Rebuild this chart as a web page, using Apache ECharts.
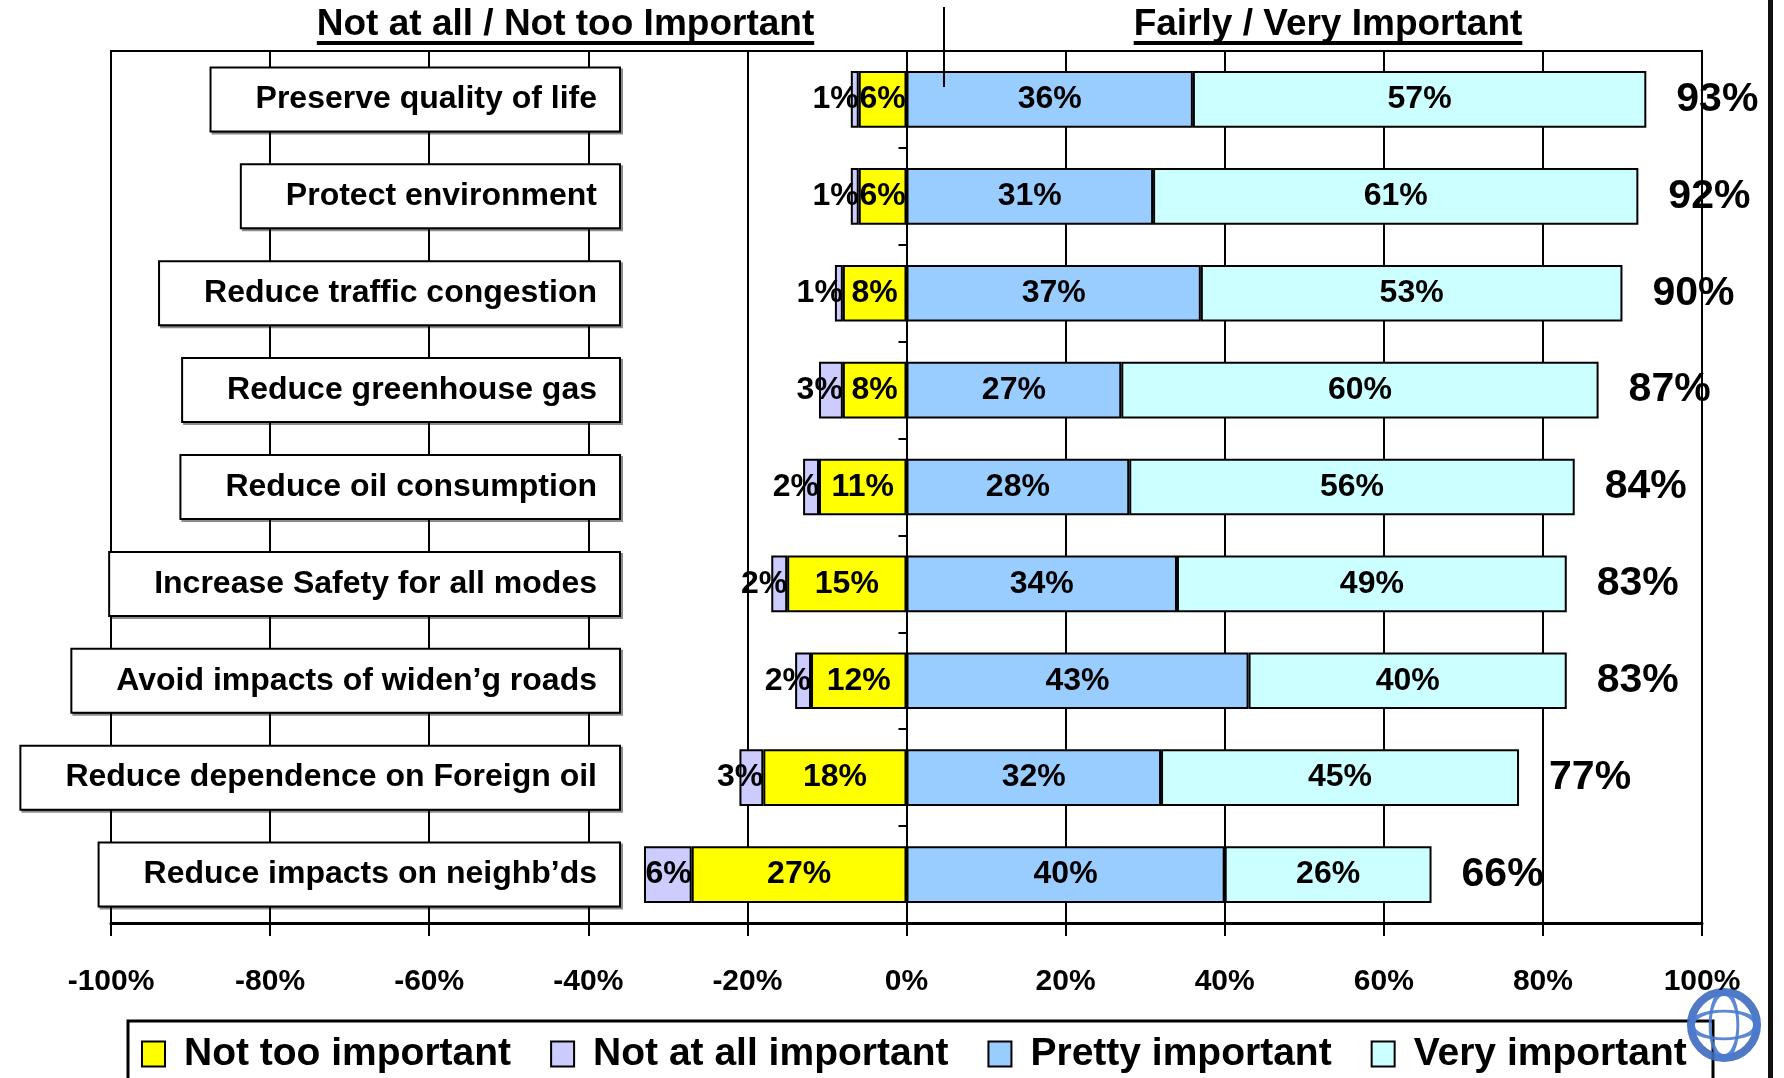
<!DOCTYPE html>
<html><head><meta charset="utf-8">
<script src="https://cdn.jsdelivr.net/npm/echarts@6/dist/echarts.min.js"></script>
<style>html,body{margin:0;padding:0;background:#fff}#c{width:1784px;height:1078px}</style>
</head><body><div id="c"></div>
<script>
// ---- data ----
const categories = [
  'Preserve quality of life',
  'Protect environment',
  'Reduce traffic congestion',
  'Reduce greenhouse gas',
  'Reduce oil consumption',
  'Increase Safety for all modes',
  'Avoid impacts of widen\u2019g roads',
  'Reduce dependence on Foreign oil',
  'Reduce impacts on neighb\u2019ds'
];
const notTooImportant   = [6, 6, 8, 8, 11, 15, 12, 18, 27];
const notAtAllImportant = [1, 1, 1, 3, 2, 2, 2, 3, 6];
const prettyImportant   = [36, 31, 37, 27, 28, 34, 43, 32, 40];
const veryImportant     = [57, 61, 53, 60, 56, 49, 40, 45, 26];
const fairlyVeryTotal   = [93, 92, 90, 87, 84, 83, 83, 77, 66];
const seriesNames = ['Not too important', 'Not at all important', 'Pretty important', 'Very important'];
const headerLeft = 'Not at all / Not too Important';
const headerRight = 'Fairly / Very Important';
const axisMin = -100, axisMax = 100, axisStep = 20;

// ---- fonts ----
function hasFont(name) {
  const c = document.createElement('canvas').getContext('2d');
  const s = 'abcdefghijklmnopqrstuvwxyz0123456789%';
  c.font = 'bold 40px monospace'; const w1 = c.measureText(s).width;
  c.font = 'bold 40px "' + name + '", monospace'; const w2 = c.measureText(s).width;
  return Math.abs(w1 - w2) > 0.5;
}
const NARROW = hasFont('Liberation Sans Narrow');
const F = '"Liberation Sans", Arial, Helvetica, sans-serif';
const FN = NARROW ? '"Liberation Sans Narrow", "Liberation Sans", Arial, sans-serif' : F;
const dataFS = NARROW ? 38 : 32;
const legendFS = NARROW ? 47 : 39;
function textW(txt, font) {
  const c = document.createElement('canvas').getContext('2d');
  c.font = font; return c.measureText(txt).width;
}

const colors = ['#FFFF00', '#CCCCFF', '#99CCFF', '#CCFFFF'];

function barSeries(name, vals, color, negative, pos) {
  return {
    name: name, type: 'bar', stack: 'total', barCategoryGap: '41.5%',
    data: vals.map(v => negative ? -v : v),
    itemStyle: { color: color, borderColor: '#000', borderWidth: 2 },
    label: {
      show: true, position: pos, distance: 0,
      formatter: p => Math.abs(p.value) + '%',
      fontFamily: FN, fontWeight: 'bold', fontSize: dataFS, color: '#000'
    },
    emphasis: { disabled: true },
    z: 2
  };
}

const chart = echarts.init(document.getElementById('c'), null, { renderer: 'canvas' });

const hFont = 'bold 37px ' + F;
const wL = textW(headerLeft, hFont), wR = textW(headerRight, hFont);
const cxL = 565.5, cxR = 1328;

chart.setOption({
  backgroundColor: '#fff',
  animation: false,
  grid: { left: 111, right: 82, top: 51, bottom: 155, containLabel: false, outerBoundsMode: 'none',
    show: true, borderColor: '#000', borderWidth: 2, backgroundColor: 'transparent' },
  xAxis: {
    type: 'value', min: axisMin, max: axisMax, interval: axisStep,
    axisLine: { show: true, onZero: false, lineStyle: { color: '#000', width: 3 } },
    axisTick: { show: true, length: 13, lineStyle: { color: '#000', width: 2 } },
    axisLabel: { formatter: '{value}%', fontFamily: F, fontWeight: 'bold', fontSize: 30, color: '#000', margin: 44 },
    splitLine: { show: true, lineStyle: { color: '#000', width: 2 } }
  },
  yAxis: {
    type: 'category', data: categories, inverse: true, z: 3,
    axisLine: { show: true, onZero: true, lineStyle: { color: '#000', width: 2 } },
    axisTick: { show: true, length: 8, lineStyle: { color: '#000', width: 2 } },
    axisLabel: {
      interval: 0, margin: -508, fontFamily: F, fontWeight: 'bold', fontSize: 32, lineHeight: 32, color: '#000',
      backgroundColor: '#fff', borderColor: '#000', borderWidth: 2, padding: [19, 22, 11, 44],
      shadowColor: 'rgba(0,0,0,0.45)', shadowOffsetX: 2, shadowOffsetY: 2, shadowBlur: 0
    },
    splitLine: { show: false }
  },
  legend: {
    data: seriesNames, left: 141, top: 1054 - legendFS / 2, padding: 0,
    itemWidth: 23, itemHeight: 25, itemGap: 39, icon: 'rect',
    itemStyle: { borderColor: '#000', borderWidth: 2 },
    textStyle: { fontFamily: FN, fontWeight: 'bold', fontSize: legendFS, color: '#000', padding: [0, 0, 0, 14] },
    selectedMode: false
  },
  series: [
    barSeries(seriesNames[0], notTooImportant, colors[0], true, 'inside'),
    barSeries(seriesNames[1], notAtAllImportant, colors[1], true, 'insideRight'),
    barSeries(seriesNames[2], prettyImportant, colors[2], false, 'inside'),
    barSeries(seriesNames[3], veryImportant, colors[3], false, 'inside'),
    {
      name: 'Total', type: 'scatter', silent: true, z: 5,
      data: fairlyVeryTotal.map((t, i) => [t, categories[i]]),
      symbolSize: 0.001, itemStyle: { color: '#000', opacity: 1 },
      label: { show: true, position: 'right', distance: 30, formatter: p => p.value[0] + '%',
        fontFamily: F, fontWeight: 'bold', fontSize: 41, color: '#000', opacity: 1 }
    }
  ],
  graphic: [
    { type: 'text', x: cxL, y: 25, z: 10, style: { text: headerLeft, font: hFont, fill: '#000', align: 'center', verticalAlign: 'middle' } },
    { type: 'rect', z: 10, shape: { x: cxL - wL / 2, y: 41, width: wL, height: 4 }, style: { fill: '#000' } },
    { type: 'text', x: cxR, y: 25, z: 10, style: { text: headerRight, font: hFont, fill: '#000', align: 'center', verticalAlign: 'middle' } },
    { type: 'rect', z: 10, shape: { x: cxR - wR / 2, y: 41, width: wR, height: 4 }, style: { fill: '#000' } },
    { type: 'line', z: 10, shape: { x1: 944, y1: 7, x2: 944, y2: 87 }, style: { stroke: '#000', lineWidth: 2 } },
    { type: 'rect', z: -1, shape: { x: 128, y: 1021, width: 1585, height: 90 }, style: { fill: '#fff', stroke: '#000', lineWidth: 3 } },
    { type: 'rect', z: 10, shape: { x: 1768, y: 0, width: 5, height: 1078 }, style: { fill: '#111' } },
    { type: 'group', x: 1724, y: 1025, z: 20, children: [
      { type: 'circle', shape: { cx: 0, cy: 0, r: 33 }, style: { fill: 'none', stroke: '#3d6cc0', lineWidth: 8, opacity: 0.9 } },
      { type: 'circle', scaleX: 0.42, shape: { cx: 0, cy: 0, r: 33 }, style: { fill: 'none', stroke: '#4a7bd0', lineWidth: 7, strokeNoScale: true, opacity: 0.9 } },
      { type: 'circle', scaleY: 0.42, shape: { cx: 0, cy: 0, r: 33 }, style: { fill: 'none', stroke: '#4a7bd0', lineWidth: 7, strokeNoScale: true, opacity: 0.9 } }
    ] }
  ]
});
</script>
</body></html>
